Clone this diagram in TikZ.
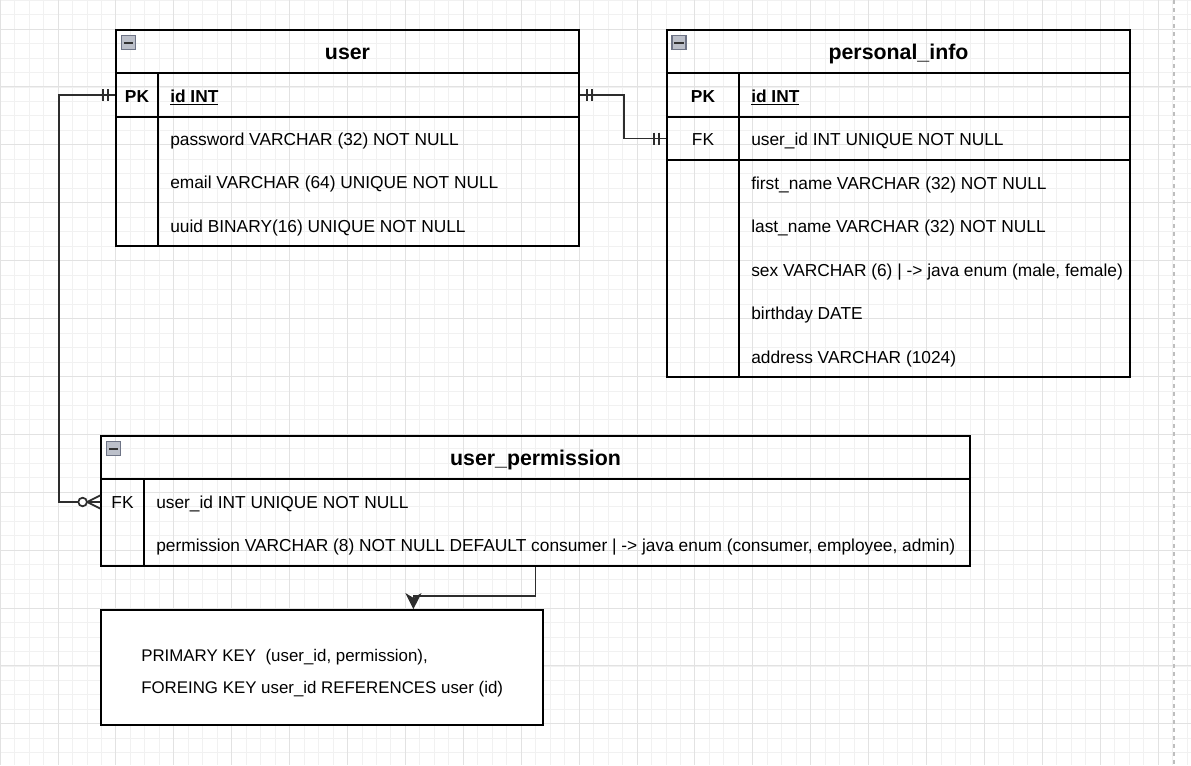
\documentclass[tikz,border=0pt]{standalone}
\usepackage{fontspec}
\setmainfont{Liberation Sans}
\usepackage{xcolor}
\usepackage{tikz}
\usetikzlibrary{fit,calc,arrows.meta}
\definecolor{gridminor}{RGB}{241,241,241}
\definecolor{gridmajor}{RGB}{226,226,226}
\definecolor{pagebreak}{RGB}{190,190,190}
\definecolor{linkgray}{RGB}{45,45,45}
\definecolor{iconedge}{RGB}{110,116,134}
\definecolor{iconfill}{RGB}{188,192,202}

\tikzset{
  tablebox/.style={draw=black, line width=1.3pt, inner sep=0pt},
  tableline/.style={draw=black, line width=1.3pt},
  titletext/.style={font=\fontsize{16}{19}\selectfont\bfseries,
    inner sep=0pt, text height=11.5pt, text depth=0pt},
  attrtext/.style={font=\fontsize{13}{15}\selectfont, anchor=west,
    inner sep=0pt, text height=9.3pt, text depth=0pt},
  keytext/.style={attrtext, anchor=center},
  collapse/.style={draw=iconedge, fill=iconfill, line width=0.8pt,
    minimum width=10.5pt, minimum height=10.5pt, inner sep=0pt,
    path picture={\draw[black!80, line width=1.5pt]
      ([xshift=1.8pt]path picture bounding box.west) --
      ([xshift=-1.8pt]path picture bounding box.east);}},
  link/.style={draw=linkgray, line width=1.3pt},
}

\begin{document}
\begin{tikzpicture}[x=0.75pt, y=-0.75pt]
  \useasboundingbox (0,0) rectangle (1191,765);

  % Grid
  \foreach \g in {0,...,82}{
    \draw[gridminor, line width=0.5pt] ({\g*14.475},0) -- ({\g*14.475},765);
  }
  \foreach \g in {0,...,52}{
    \draw[gridminor, line width=0.5pt] (0,{\g*14.475}) -- (1191,{\g*14.475});
  }
  \foreach \g in {0,...,20}{
    \draw[gridmajor, line width=0.6pt] ({\g*57.9},0) -- ({\g*57.9},765);
  }
  \foreach \g in {0,...,12}{
    \draw[gridmajor, line width=0.6pt] (0,{28.95+\g*57.9}) -- (1191,{28.95+\g*57.9});
  }
  \draw[pagebreak, line width=0.8pt, dash pattern=on 3pt off 3pt]
    (1174,0) -- (1174,765);

  % user
  \node[tablebox, fit={(116,30) (579,73)}] (user-head) {};
  \node[collapse] (user-icon) at (128.5,42.5) {};
  \node[titletext] (user-title) at (user-head.center) {user};
  \node[tablebox, fit={(116,73) (579,117)}] (user-pk) {};
  \node[tablebox, fit={(116,117) (579,246)}] (user-body) {};
  \draw[tableline] (158,73) -- (158,246);
  \node[keytext, font=\fontsize{13}{15}\selectfont\bfseries]
    (user-pk-key) at (137,96) {PK};
  \node[attrtext, font=\fontsize{13}{15}\selectfont\bfseries]
    (user-pk-attr) at (170,96) {\underline{id INT}};
  \foreach \i/\attr in {
    1/{password VARCHAR (32) NOT NULL},
    2/{email VARCHAR (64) UNIQUE NOT NULL},
    3/{uuid BINARY(16) UNIQUE NOT NULL}
  }{
    \pgfmathsetmacro\ypos{139 + (\i-1)*43.5}
    \node[attrtext] (user-attr-\i) at (170,\ypos) {\attr};
  }

  % personal_info
  \node[tablebox, fit={(667,30) (1130,73)}] (pi-head) {};
  \node[collapse] (pi-icon) at (679,42.5) {};
  \node[titletext] (pi-title) at (pi-head.center) {personal\_info};
  \node[tablebox, fit={(667,73) (1130,117)}] (pi-pk) {};
  \node[tablebox, fit={(667,117) (1130,160)}] (pi-fk) {};
  \node[tablebox, fit={(667,160) (1130,377)}] (pi-body) {};
  \draw[tableline] (739,73) -- (739,377);
  \node[keytext, font=\fontsize{13}{15}\selectfont\bfseries]
    (pi-pk-key) at (703,96) {PK};
  \node[attrtext, font=\fontsize{13}{15}\selectfont\bfseries]
    (pi-pk-attr) at (751,96) {\underline{id INT}};
  \node[keytext] (pi-fk-key) at (703,139) {FK};
  \node[attrtext] (pi-fk-attr) at (751,139) {user\_id INT UNIQUE NOT NULL};
  \foreach \i/\attr in {
    1/{first\_name VARCHAR (32) NOT NULL},
    2/{last\_name VARCHAR (32) NOT NULL},
    3/{sex VARCHAR (6) | -> java enum (male, female)},
    4/{birthday DATE},
    5/{address VARCHAR (1024)}
  }{
    \pgfmathsetmacro\ypos{183 + (\i-1)*43.5}
    \node[attrtext] (pi-attr-\i) at (751,\ypos) {\attr};
  }

  % user_permission
  \node[tablebox, fit={(101,436) (970,479)}] (perm-head) {};
  \node[collapse] (perm-icon) at (113.5,448.5) {};
  \node[titletext] (perm-title) at (perm-head.center) {user\_permission};
  \node[tablebox, fit={(101,479) (970,566)}] (perm-body) {};
  \draw[tableline] (144,479) -- (144,566);
  \node[keytext] (perm-fk-key) at (122.5,502) {FK};
  \node[attrtext] (perm-attr-1) at (156,502) {user\_id INT UNIQUE NOT NULL};
  \node[attrtext] (perm-attr-2) at (156,545)
    {permission VARCHAR (8) NOT NULL DEFAULT consumer | -> java enum (consumer, employee, admin)};

  % constraints
  \node[tablebox, fill=white, fit={(101,610) (543,725)}] (cons) {};
  \node[attrtext, font=\fontsize{12.65}{15}\selectfont]
    (cons-pk) at (141,655) {PRIMARY KEY\ \ (user\_id, permission),};
  \node[attrtext, font=\fontsize{12.65}{15}\selectfont]
    (cons-fk) at (141,687) {FOREING KEY user\_id REFERENCES user (id)};

  % Links
  \draw[link] (user-pk.west) -- ++(-56,0) |- (perm-body.west |- perm-fk-key);
  \draw[link] (user-pk.west) ++(-12.5,-6) -- ++(0,12);
  \draw[link] (user-pk.west) ++(-7.5,-6) -- ++(0,12);
  \draw[link] (perm-body.west |- perm-fk-key) ++(-13,0) -- ++(13,-6.5)
    ++(-13,6.5) -- ++(13,0) ++(-13,0) -- ++(13,6.5);
  \draw[link, fill=white] (perm-body.west |- perm-fk-key) ++(-17.5,0) circle[radius=4.3];

  \draw[link] (user-pk.east) -- ++(44,0) |- (pi-fk.west);
  \draw[link] (user-pk.east) ++(7,-6) -- ++(0,12);
  \draw[link] (user-pk.east) ++(12,-6) -- ++(0,12);
  \draw[link] (pi-fk.west) ++(-12.5,-6) -- ++(0,12);
  \draw[link] (pi-fk.west) ++(-7.5,-6) -- ++(0,12);

  \draw[link, -{Stealth[length=12pt, width=12pt, inset=3.5pt]}]
    (perm-body.south) -- ++(0,29) -| ($(cons.north west)!0.706!(cons.north east)$);
\end{tikzpicture}
\end{document}
